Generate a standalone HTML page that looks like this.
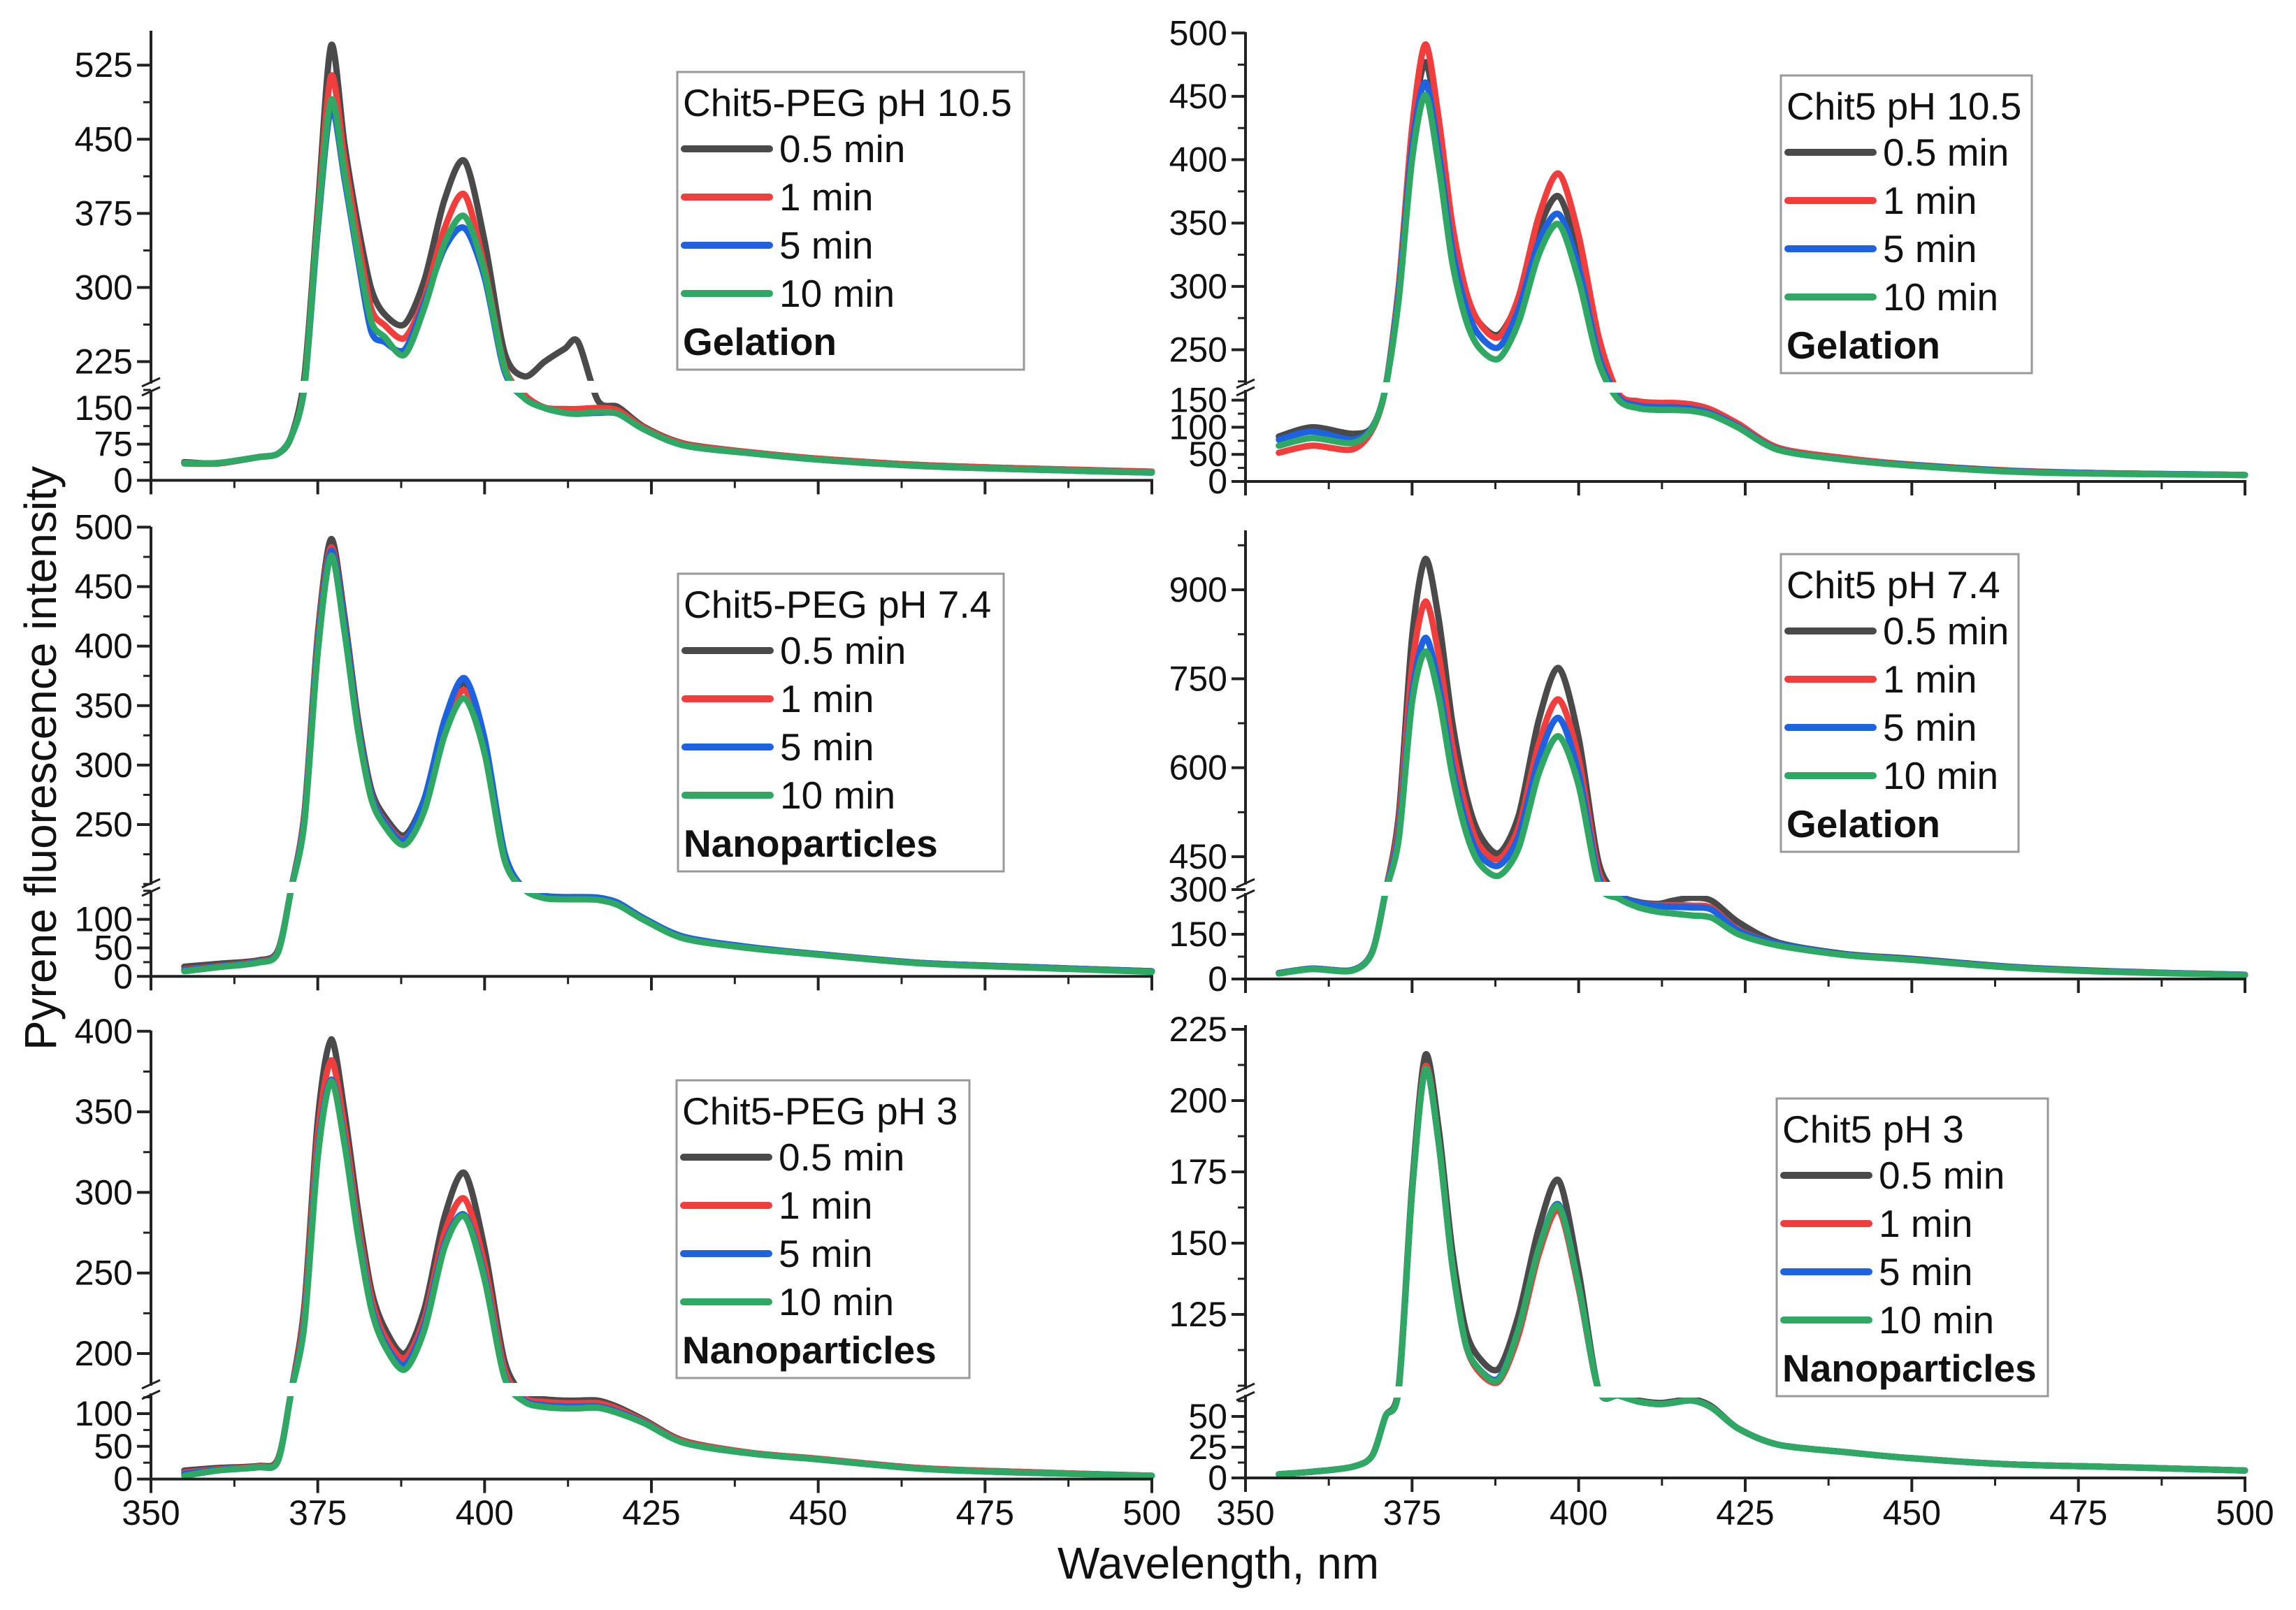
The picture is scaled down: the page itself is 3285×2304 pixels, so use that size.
<!DOCTYPE html>
<html><head><meta charset="utf-8"><style>
html,body{margin:0;padding:0;background:#fff;}
svg{display:block;font-family:"Liberation Sans",Arial,sans-serif;}
</style></head><body>
<svg id="chart" xmlns="http://www.w3.org/2000/svg" width="3285" height="2304" viewBox="0 0 3285 2304">
<rect width="3285" height="2304" fill="#fff"/>
<text x="0" y="0" transform="translate(58,1085) rotate(-90)" font-size="64" text-anchor="middle" dominant-baseline="central" fill="#111">Pyrene fluorescence intensity</text>
<text x="1743" y="2237" font-size="64" text-anchor="middle" dominant-baseline="central" fill="#111">Wavelength, nm</text>
</svg>
<script>
const wavelengths=[355,360,366,369,371,373,375,377,379,381,383,385,388,391,394,397,400,403,406,409,412,414,417,420,424,430,440,450,465,480,500];
const seriesNames=["0.5 min","1 min","5 min","10 min"];
const xTicks=[350,375,400,425,450,475,500];
// Panel A: Chit5-PEG pH 10.5
const aBlack=[38,35,48,55,90,210,380,545,445,364,299,273,263,308,389,428,347,234,210,225,238,245,165,152,110,76,58,45,32,25,18];
const aRed=[35,35,48,55,90,200,370,514,430,350,279,262,249,290,360,394,320,220,177,151,148,148,150,145,108,75,58,45,32,25,18];
const aBlue=[36,36,48,55,90,195,360,481,410,330,256,245,237,285,340,360,310,215,170,150,140,138,140,138,105,72,56,43,30,23,16];
const aGreen=[36,36,48,55,90,198,365,490,415,335,266,250,232,280,345,372,315,218,170,150,140,138,142,138,105,72,56,43,30,23,16];
// Panel B: Chit5 pH 10.5
const bBlack=[83,100,88,100,190,300,420,477,420,340,295,272,262,290,345,371,325,250,155,143,140,140,137,128,103,60,41,30,19,15,12];
const bRed=[53,66,59,95,185,300,425,491,432,350,298,272,260,292,355,389,340,260,162,148,145,145,142,132,106,62,43,31,20,15,12];
const bBlue=[77,92,77,100,188,295,410,461,405,330,285,262,252,282,335,357,315,245,155,140,137,137,134,125,101,59,40,30,19,15,12];
const bGreen=[66,80,71,98,186,290,400,451,395,320,275,252,243,272,325,349,305,240,150,135,132,132,130,122,99,58,40,29,18,14,12];
// Panel C: Chit5-PEG pH 7.4
const cBlack=[17,22,28,45,160,260,410,490,425,340,280,257,241,272,335,369,320,225,160,140,138,138,137,128,100,68,50,39,24,17,9];
const cRed=[12,18,26,43,158,258,405,483,420,335,276,253,238,268,330,363,315,222,158,139,137,137,136,127,99,67,50,39,24,17,9];
const cBlue=[11,17,25,42,157,255,400,480,418,333,275,252,237,272,338,373,322,226,160,141,139,139,138,129,101,69,51,39,24,17,9];
const cGreen=[9,16,24,41,155,252,395,476,412,330,272,249,233,262,325,356,310,220,156,137,135,135,134,125,98,66,49,38,23,16,8];
// Panel D: Chit5 pH 7.4
const dBlack=[20,35,30,90,300,520,820,952,850,680,560,490,456,520,680,768,650,440,285,258,252,262,272,262,190,122,84,68,41,26,14];
const dRed=[20,35,30,90,298,505,770,880,790,640,535,470,446,500,640,715,615,425,280,255,248,248,246,238,165,118,82,66,40,25,14];
const dBlue=[20,35,30,90,295,490,725,819,740,605,510,455,435,485,615,684,590,415,278,255,245,242,240,232,162,118,82,66,40,25,14];
const dGreen=[18,33,28,88,290,480,710,796,720,590,495,440,418,465,590,653,570,405,270,240,225,220,213,205,150,112,80,64,38,24,13];
// Panel E: Chit5-PEG pH 3
const eBlack=[13,17,20,30,140,230,345,395,350,290,240,216,200,228,285,312,265,195,128,122,120,120,120,110,90,58,40,31,17,11,5];
const eRed=[10,15,19,28,138,225,335,382,340,282,235,211,197,222,275,296,255,190,124,118,116,116,116,107,88,57,40,31,17,11,5];
const eBlue=[8,14,18,27,136,220,325,370,332,276,230,207,193,218,268,286,248,186,120,113,111,111,111,103,86,55,39,30,16,10,5];
const eGreen=[5,13,18,27,135,218,322,369,330,274,228,205,190,215,266,285,246,185,118,110,108,108,109,101,85,55,39,30,16,10,5];
// Panel F: Chit5 pH 3
const fBlack=[3,5,9,18,50,100,170,216,190,148,120,110,106,125,155,172,140,95,68,63,61,62,64,58,40,27,21,16,11,9,6];
const fRed=[3,5,9,18,50,99,168,212,185,143,115,105,101.5,118,146,161.5,134,93,67,62,60,61,63,57,40,27,21,16,11,9,6];
const fBlue=[3,5,9,18,50,99,168,211,185,143,115,106,102.6,120,148,163.5,135,93,67,62,60,61,63,57,40,27,21,16,11,9,6];
const fGreen=[3,5,9,18,50,99,168,211,185,143,115,106,102,120,148,163,135,93,67,62,60,61,63,57,40,27,21,16,11,9,6];
// tick labels
const aUpperTicks=[225,300,375,450,525]; const aLowerTicks=[0,75,150];
const bUpperTicks=[250,300,350,400,450,500]; const bLowerTicks=[0,50,100,150];
const cUpperTicks=[250,300,350,400,450,500]; const cLowerTicks=[0,50,100];
const dUpperTicks=[450,600,750,900]; const dLowerTicks=[0,150,300];
const eUpperTicks=[200,250,300,350,400]; const eLowerTicks=[0,50,100];
const fUpperTicks=[125,150,175,200,225]; const fLowerTicks=[0,25,50];

const colors=["#4a4a4a","#f23d3d","#1d62e0","#2ea862"];
const NS="http://www.w3.org/2000/svg";
const svg=document.getElementById("chart");
function el(tag,attrs,parent){const e=document.createElementNS(NS,tag);for(const k in attrs)e.setAttribute(k,attrs[k]);(parent||svg).appendChild(e);return e;}

const panels=[
 {id:"a",title:"Chit5-PEG pH 10.5",state:"Gelation",series:[aBlack,aRed,aBlue,aGreen],x0:216,x1:1648,
  uy0:517.5,uv0:225,uk:1.4143,uTop:44,uBot:549,uMinor:37.5,ut:aUpperTicks,
  ly0:687.4,lk:0.69,lTop:558,lMinor:37.5,lt:aLowerTicks,lg:[969,103,496],labels:false},
 {id:"b",title:"Chit5 pH 10.5",state:"Gelation",series:[bBlack,bRed,bBlue,bGreen],x0:1782,x1:3212,
  uy0:500.5,uv0:250,uk:1.813,uTop:46,uBot:551,uMinor:25,ut:bUpperTicks,
  ly0:689,lk:0.776,lTop:558,lMinor:25,lt:bLowerTicks,lg:[2548,108,359],labels:false},
 {id:"c",title:"Chit5-PEG pH 7.4",state:"Nanoparticles",series:[cBlack,cRed,cBlue,cGreen],x0:216,x1:1648,
  uy0:1180,uv0:250,uk:1.7024,uTop:754,uBot:1266,uMinor:25,ut:cUpperTicks,
  ly0:1397.3,lk:0.817,lTop:1274,lMinor:25,lt:cLowerTicks,lg:[970,821,466],labels:false},
 {id:"d",title:"Chit5 pH 7.4",state:"Gelation",series:[dBlack,dRed,dBlue,dGreen],x0:1782,x1:3212,
  uy0:1226,uv0:450,uk:0.8489,uTop:759,uBot:1266,uMinor:75,ut:dUpperTicks,
  ly0:1401,lk:0.4267,lTop:1278,lMinor:75,lt:dLowerTicks,lg:[2548,793,340],labels:false},
 {id:"e",title:"Chit5-PEG pH 3",state:"Nanoparticles",series:[eBlack,eRed,eBlue,eGreen],x0:216,x1:1648,
  uy0:1937,uv0:200,uk:2.306,uTop:1475,uBot:1983,uMinor:25,ut:eUpperTicks,
  ly0:2116.6,lk:0.936,lTop:1994,lMinor:25,lt:eLowerTicks,lg:[968,1546,419],labels:true},
 {id:"f",title:"Chit5 pH 3",state:"Nanoparticles",series:[fBlack,fRed,fBlue,fGreen],x0:1782,x1:3212,
  uy0:1881,uv0:125,uk:4.08,uTop:1467,uBot:1988,uMinor:12.5,ut:fUpperTicks,
  ly0:2115,lk:1.76,lTop:1996,lMinor:12.5,lt:fLowerTicks,lg:[2542,1572,388],labels:true}
];

function smoothPath(pts){
  let d="M"+pts[0][0].toFixed(1)+","+pts[0][1].toFixed(1);
  for(let i=0;i<pts.length-1;i++){
    const p0=pts[Math.max(0,i-1)],p1=pts[i],p2=pts[i+1],p3=pts[Math.min(pts.length-1,i+2)];
    const c1x=p1[0]+(p2[0]-p0[0])/7,c1y=p1[1]+(p2[1]-p0[1])/7;
    const c2x=p2[0]-(p3[0]-p1[0])/7,c2y=p2[1]-(p3[1]-p1[1])/7;
    d+="C"+c1x.toFixed(1)+","+c1y.toFixed(1)+" "+c2x.toFixed(1)+","+c2y.toFixed(1)+" "+p2[0].toFixed(1)+","+p2[1].toFixed(1);
  }
  return d;
}

panels.forEach(p=>{
  const g=el("g",{});
  
  
  const xs=v=>p.x0+(v-350)/150*(p.x1-p.x0);
  const yU=v=>p.uy0-(v-p.uv0)*p.uk;
  const yL=v=>p.ly0-v*p.lk;
  const uMin=p.uv0-(p.uBot-p.uy0)/p.uk;
  const lMax=(p.ly0-p.lTop)/p.lk;
  const ys=v=>{ if(v>=uMin) return yU(v); if(v<=lMax) return yL(v);
    const t=(v-lMax)/(uMin-lMax); return p.lTop+(p.uBot-p.lTop)*t; };
  p.series.forEach((arr,si)=>{
    const pts=wavelengths.map((w,i)=>[xs(w),ys(arr[i])]);
    const path=el("path",{d:smoothPath(pts),fill:"none",stroke:colors[si],"stroke-width":9,"stroke-linejoin":"round","stroke-linecap":"round"},g);
    
    
  });
  const gap=el("rect",{x:p.x0+2,y:p.uBot-4,width:p.x1-p.x0+10,height:p.lTop-p.uBot+8,fill:"#fff"},g);
  
  
  const ax={stroke:"#222","stroke-width":4,fill:"none"};
  const ya=el("g",{},g);
  
  
  el("line",Object.assign({x1:p.x0,x2:p.x0,y1:p.uTop,y2:p.uBot},ax),ya);
  el("line",Object.assign({x1:p.x0,x2:p.x0,y1:p.lTop,y2:p.ly0},ax),ya);
  el("line",{x1:p.x0-13,y1:p.uBot+4,x2:p.x0+13,y2:p.uBot-8,stroke:"#222","stroke-width":3},ya);
  el("line",{x1:p.x0-13,y1:p.lTop+8,x2:p.x0+13,y2:p.lTop-4,stroke:"#222","stroke-width":3},ya);
  p.ut.forEach(v=>{
    const y=yU(v);
    el("line",{x1:p.x0-20,x2:p.x0,y1:y,y2:y,stroke:"#222","stroke-width":4},ya);
    const t=el("text",{x:p.x0-26,y:y,"font-size":50,"text-anchor":"end","dominant-baseline":"central",fill:"#111"},ya);
    t.textContent=v;
    
    
  });
  for(let v=p.ut[0]; ; v+=p.uMinor){
    const y=yU(v); if(y<p.uTop) break;
    el("line",{x1:p.x0-11,x2:p.x0,y1:y,y2:y,stroke:"#222","stroke-width":3},ya);
  }
  for(let v=p.ut[0]-p.uMinor; ; v-=p.uMinor){ const y=yU(v); if(y>p.uBot) break;
    el("line",{x1:p.x0-11,x2:p.x0,y1:y,y2:y,stroke:"#222","stroke-width":3},ya); }
  p.lt.forEach(v=>{
    const y=yL(v);
    el("line",{x1:p.x0-20,x2:p.x0,y1:y,y2:y,stroke:"#222","stroke-width":4},ya);
    const t=el("text",{x:p.x0-26,y:y,"font-size":50,"text-anchor":"end","dominant-baseline":"central",fill:"#111"},ya);
    t.textContent=v;
    
    
  });
  for(let v=0; ; v+=p.lMinor){ const y=yL(v); if(y<p.lTop) break;
    el("line",{x1:p.x0-11,x2:p.x0,y1:y,y2:y,stroke:"#222","stroke-width":3},ya); }
  const xa=el("g",{},g);
  
  
  el("line",Object.assign({x1:p.x0,x2:p.x1+2,y1:p.ly0,y2:p.ly0},ax),xa);
  for(let w=350;w<=500;w+=12.5){
    const major=(w%25===0);
    el("line",{x1:xs(w),x2:xs(w),y1:p.ly0,y2:p.ly0+(major?20:11),stroke:"#222","stroke-width":major?4:3},xa);
  }
  if(p.labels){
    xTicks.forEach(w=>{
      const t=el("text",{x:xs(w),y:2165,"font-size":50,"text-anchor":"middle","dominant-baseline":"central",fill:"#111"},xa);
      t.textContent=w;
      
      
    });
  }
  const [lx,ly,lw]=p.lg;
  const lg=el("g",{},g);
  
  
  el("rect",{x:lx,y:ly,width:lw,height:426,fill:"#fff",stroke:"#999","stroke-width":3},lg);
  const tt=el("text",{x:lx+8,y:ly+44,"font-size":55,"dominant-baseline":"central",fill:"#111"},lg);
  tt.textContent=p.title;
  
  
  seriesNames.forEach((n,i)=>{
    const yy=ly+110+69*i;
    const e=el("g",{},lg);
    
    
    el("line",{x1:lx+10,x2:lx+132,y1:yy,y2:yy,stroke:colors[i],"stroke-width":10,"stroke-linecap":"round"},e);
    const t=el("text",{x:lx+146,y:yy,"font-size":55,"dominant-baseline":"central",fill:"#111"},e);
    t.textContent=n;
  });
  const st=el("text",{x:lx+8,y:ly+386,"font-size":55,"font-weight":"bold","dominant-baseline":"central",fill:"#111"},lg);
  st.textContent=p.state;
  
  
});
</script>
</body></html>
